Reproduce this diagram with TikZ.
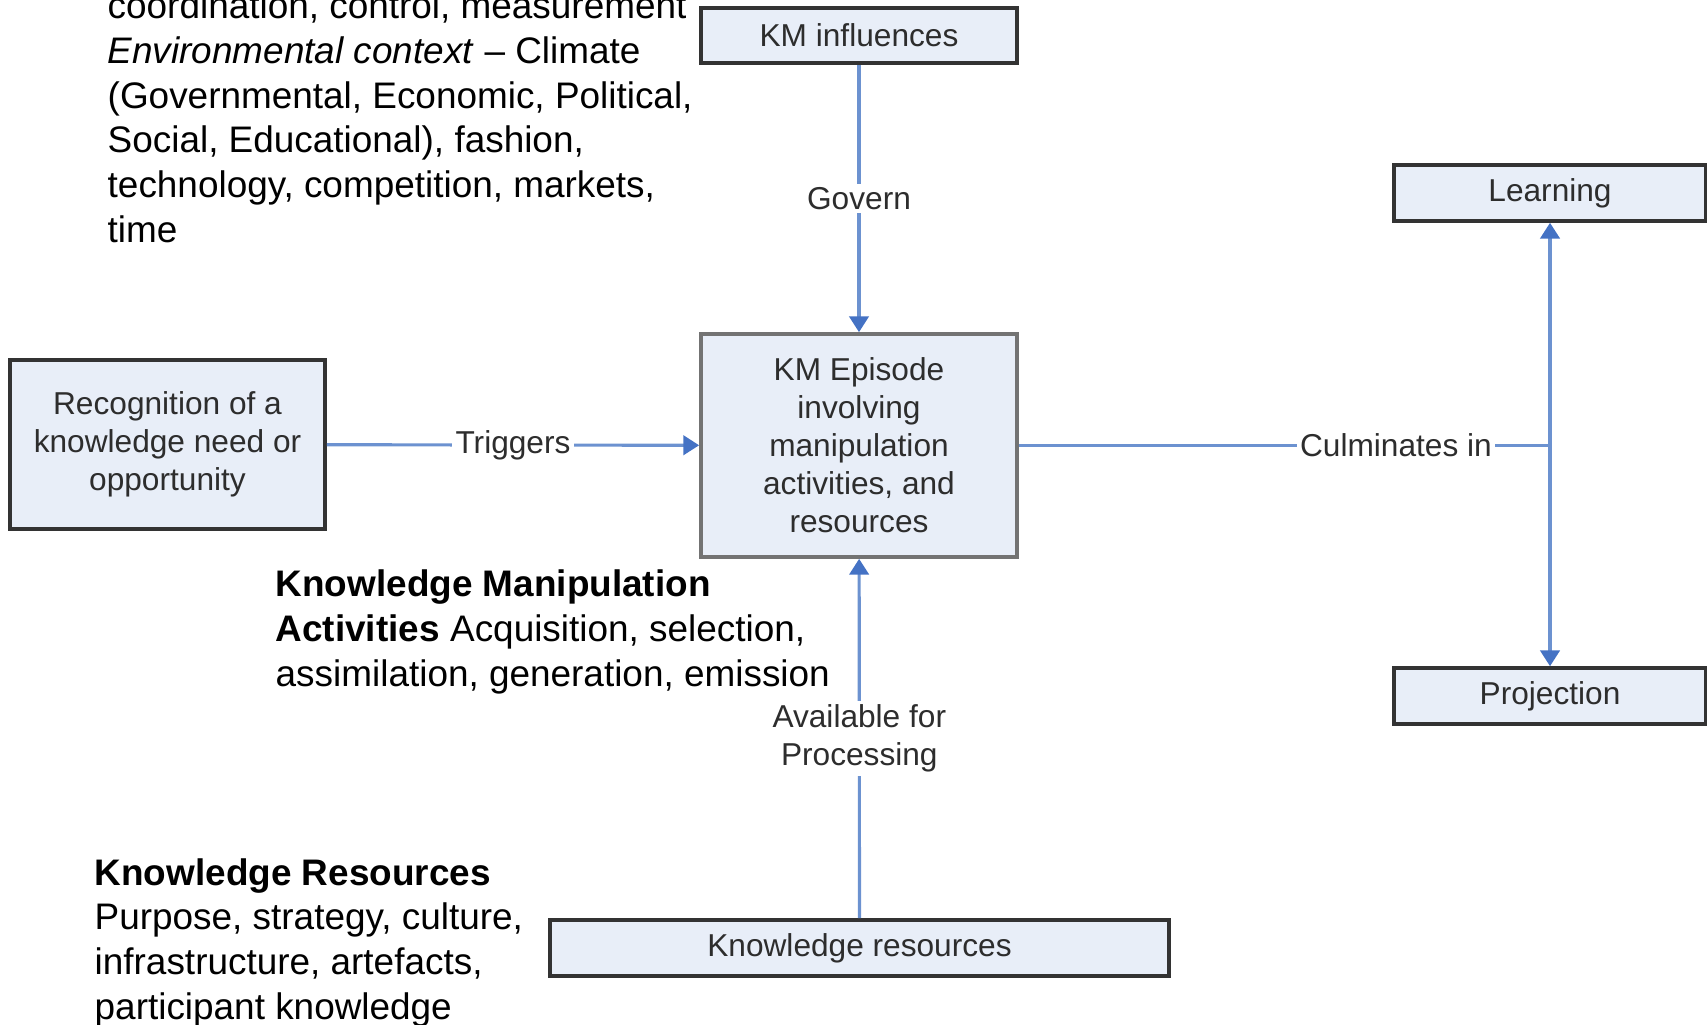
\documentclass[tikz,border=0pt]{standalone}
\usepackage{fontspec}
\setmainfont{Liberation Sans}
\usetikzlibrary{arrows.meta}

\definecolor{boxfill}{RGB}{232,238,248}
\definecolor{flowblue}{RGB}{108,146,208}
\definecolor{tipblue}{RGB}{68,114,196}
\definecolor{labelgray}{RGB}{45,45,45}

\begin{document}
\begin{tikzpicture}[x=0.01cm, y=-0.01cm,
    kmbox/.style={draw=black!80, line width=1pt, fill=boxfill, text=labelgray,
      font=\fontsize{9}{10.8}\selectfont, align=center, inner sep=0pt},
    flow/.style={draw=flowblue, line width=0.9pt,
      -{Triangle[width=5.5pt,length=4.5pt,color=tipblue]}},
    link/.style={draw=flowblue, line width=0.9pt},
    lbl/.style={fill=white, text=labelgray, font=\fontsize{9}{10.8}\selectfont,
      inner sep=1pt, align=center},
    note/.style={anchor=base west, align=left, inner sep=0pt,
      font=\fontsize{10.5}{12.7}\selectfont}]

    % Page frame (pixel grid of the figure)
    \useasboundingbox (0,0) rectangle (1707,1024);

    % The KM episode in the middle
    \node[kmbox, draw=black!55, minimum width=3.16cm, minimum height=2.23cm] (episode) at (859,445.5)
      {KM Episode\\involving\\manipulation\\activities, and\\resources};

    % Boxes round it
    \node[kmbox, minimum width=3.16cm, minimum height=0.55cm] (infl) at (859,35.5) {KM influences};
    \node[kmbox, minimum width=3.15cm, minimum height=1.69cm] (recog) at (167.5,444.5)
      {Recognition of a\\knowledge need or\\opportunity};
    \node[kmbox, minimum width=6.19cm, minimum height=0.56cm] (kres) at (859.5,948) {Knowledge resources};
    \node[kmbox, minimum width=3.12cm, minimum height=0.56cm] (learn) at (1550,193) {Learning};
    \node[kmbox, minimum width=3.12cm, minimum height=0.56cm] (proj) at (1550,696) {Projection};

    % Connectors
    \draw[flow] (infl) -- node[lbl] {Govern} (episode);
    \draw[flow] (recog) -- node[lbl] {Triggers} (episode);
    \draw[flow] (kres) -- node[lbl] {Available for\\Processing} (episode);
    \coordinate (junc) at (learn.south |- episode.east);
    \draw[link] (episode) -- node[lbl, pos=0.71] {Culminates in} (junc);
    \draw[flow] (junc) -- (learn);
    \draw[flow] (junc) -- (proj);

    % Notes in plain text (anchored at the baseline of their last line)
    \node[note] (envnote) at (107,242)
      {coordination, control, measurement\\
       \textit{Environmental context} -- Climate\\
       (Governmental, Economic, Political,\\
       Social, Educational), fashion,\\
       technology, competition, markets,\\
       time};
    \node[note] (actnote) at (275,686)
      {\textbf{Knowledge Manipulation}\\
       \textbf{Activities} Acquisition, selection,\\
       assimilation, generation, emission};
    \node[note] (resnote) at (94,1019)
      {\textbf{Knowledge Resources}\\
       Purpose, strategy, culture,\\
       infrastructure, artefacts,\\
       participant knowledge};
\end{tikzpicture}
\end{document}
